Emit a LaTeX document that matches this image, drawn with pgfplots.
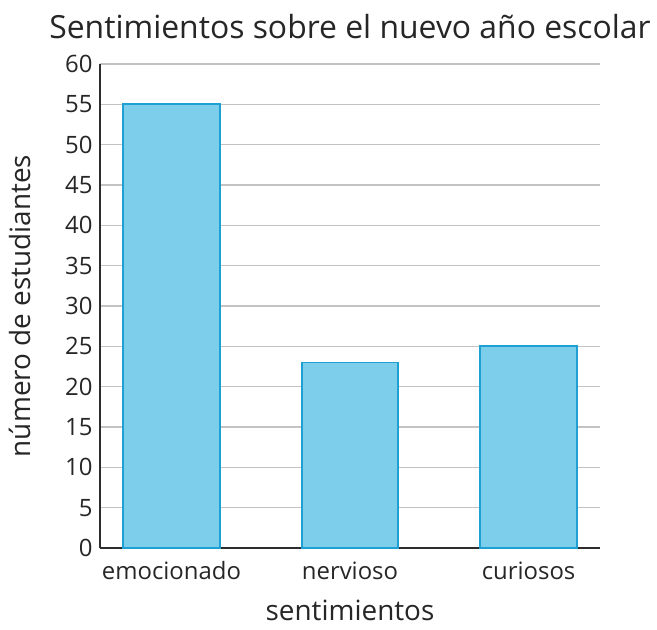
\documentclass[border=0pt]{standalone}
\usepackage{pgfplots}
\pgfplotsset{compat=1.18}
\usepackage{fontspec}
\setmainfont{Open Sans}
\definecolor{barfill}{RGB}{125,206,235}
\definecolor{barline}{RGB}{30,160,210}
\definecolor{gridgray}{RGB}{195,195,195}
\definecolor{axisdark}{RGB}{45,45,45}
\begin{document}
\begin{tikzpicture}
\begin{axis}[
    scale only axis,
    width=500bp, height=484bp,
    xmin=-0.4, xmax=2.4,
    ymin=0, ymax=60,
    ytick={0,5,...,60},
    xtick={0,1,2},
    xticklabels={emocionado,nervioso,curiosos},
    major tick length=0pt,
    axis x line*=bottom,
    axis y line*=left,
    axis line style={line width=2.4pt, axisdark},
    every outer x axis line/.append style={line width=2.4pt, axisdark},
    every outer y axis line/.append style={line width=2.4pt, axisdark},
    ymajorgrids,
    grid style={gridgray, line width=1.3pt},
    /pgf/number format/assume math mode=true,
    tick label style={font=\fontsize{24}{28}\selectfont, text=black!85},
    label style={font=\fontsize{28}{32}\selectfont, text=black!85},
    title style={font=\fontsize{32}{36}\selectfont, text=black!85, yshift=16bp},
    title={Sentimientos sobre el nuevo año escolar},
    xlabel={sentimientos},
    ylabel={número de estudiantes},
    ylabel style={yshift=28bp},
    xlabel style={yshift=-13bp},
    xticklabel style={yshift=-10bp},
    yticklabel style={xshift=-4pt},
    clip=false,
    after end axis/.code={
        \path (rel axis cs:0,0) ++(-100bp,-82bp);
        \path (rel axis cs:1,1) ++(57bp,64bp);
    },
]
\addplot[ybar, bar width=0.54, fill=barfill, draw=barline, line width=1.8pt] coordinates {
    (0,55)
    (1,23)
    (2,25)
};
\end{axis}
\end{tikzpicture}
\end{document}
